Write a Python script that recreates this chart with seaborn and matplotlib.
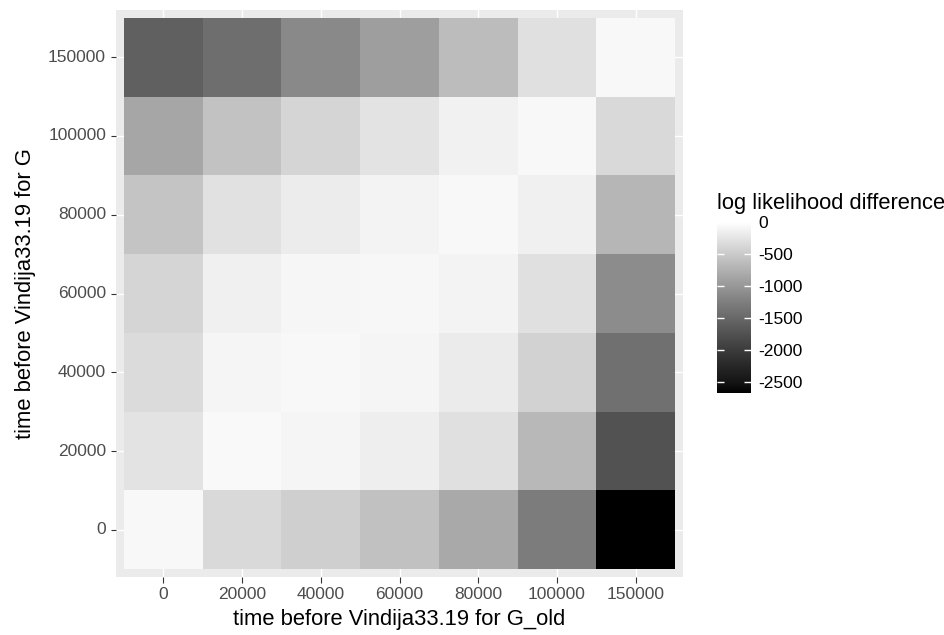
import numpy as np
import pandas as pd
import matplotlib
matplotlib.use("Agg")
import matplotlib.pyplot as plt
from matplotlib.colors import ListedColormap
import seaborn as sns

# Split times (years) for the two populations
x_times = [0, 20000, 40000, 60000, 80000, 100000, 150000]   # G_old
y_times = [0, 20000, 40000, 60000, 80000, 100000, 150000]   # G

# Log likelihood difference, one list per G time, ordered by G_old time
ll_g0 = [-65, -356, -452, -587, -824, -1286, -2680]
ll_g20000 = [-271, -55, -102, -167, -299, -676, -1745]
ll_g40000 = [-337, -102, -65, -102, -196, -424, -1414]
ll_g60000 = [-404, -140, -84, -74, -121, -299, -1119]
ll_g80000 = [-559, -290, -186, -121, -65, -140, -695]
ll_g100000 = [-854, -578, -404, -271, -130, -65, -356]
ll_g150000 = [-1588, -1435, -1150, -935, -646, -299, -65]

legend_ticks = [0, -500, -1000, -1500, -2000, -2500]

rows = [ll_g0, ll_g20000, ll_g40000, ll_g60000, ll_g80000, ll_g100000, ll_g150000]
df = pd.DataFrame(rows, index=[str(v) for v in y_times], columns=[str(v) for v in x_times])
df = df.iloc[::-1]  # largest G time on top

# black -> white gradient interpolated linearly in CIE L*
t = np.linspace(0, 1, 256)
L = 100 * t
fy = (L + 16) / 116
Y = np.where(L > 8, fy ** 3, L / 903.3)
s = np.where(Y <= 0.0031308, 12.92 * Y, 1.055 * np.power(Y, 1 / 2.4) - 0.055)
s = np.clip(s, 0, 1)
cmap = ListedColormap(np.stack([s, s, s], axis=1))

plt.rcParams["font.family"] = ["Liberation Sans", "DejaVu Sans"]
plt.rcParams["axes.unicode_minus"] = False

W, H = 944, 635
fig = plt.figure(figsize=(W / 100, H / 100), dpi=100)
ax = fig.add_axes([116 / W, 1 - 577 / H, 567 / W, 567 / H])
cax = fig.add_axes([717 / W, 1 - 393 / H, 34 / W, 171 / H])

vmin = df.values.min()
sns.heatmap(df, ax=ax, cbar_ax=cax, cmap=cmap, vmin=vmin, vmax=0,
            linewidths=0, cbar_kws={"ticks": legend_ticks})

n = len(x_times)
ax.set_xlim(-0.1, n + 0.1)
ax.set_ylim(n + 0.1, -0.1)
ax.set_facecolor("#EBEBEB")
ax.grid(True, color="white", linewidth=1.0)
ax.set_axisbelow(True)
for sp in ax.spines.values():
    sp.set_visible(False)
ax.tick_params(axis="both", colors="#333333", length=3.96, width=0.8,
               labelcolor="#4D4D4D", labelsize=12.5, pad=3.2)
plt.setp(ax.get_xticklabels(), rotation=0)
plt.setp(ax.get_yticklabels(), rotation=0)
ax.set_xlabel("time before Vindija33.19 for G_old", fontsize=15.8, labelpad=5, color="black")
ax.set_ylabel("time before Vindija33.19 for G", fontsize=15.8, labelpad=9, color="black")

# colour bar styled like a ggplot guide
cb = ax.collections[0].colorbar
cb.outline.set_visible(False)
cax.tick_params(length=0, labelsize=12.5, labelcolor="black", pad=5)
cb.set_ticks(legend_ticks)
cb.set_ticklabels([str(v) for v in legend_ticks])
cax.hlines(legend_ticks, 0, 0.2, colors="white", linewidth=1.0)
cax.hlines(legend_ticks, 0.8, 1, colors="white", linewidth=1.0)
cax.set_title("log likelihood difference", loc="left", fontsize=15.8, pad=9.6, color="black")

fig.savefig("out.png", dpi=100)
